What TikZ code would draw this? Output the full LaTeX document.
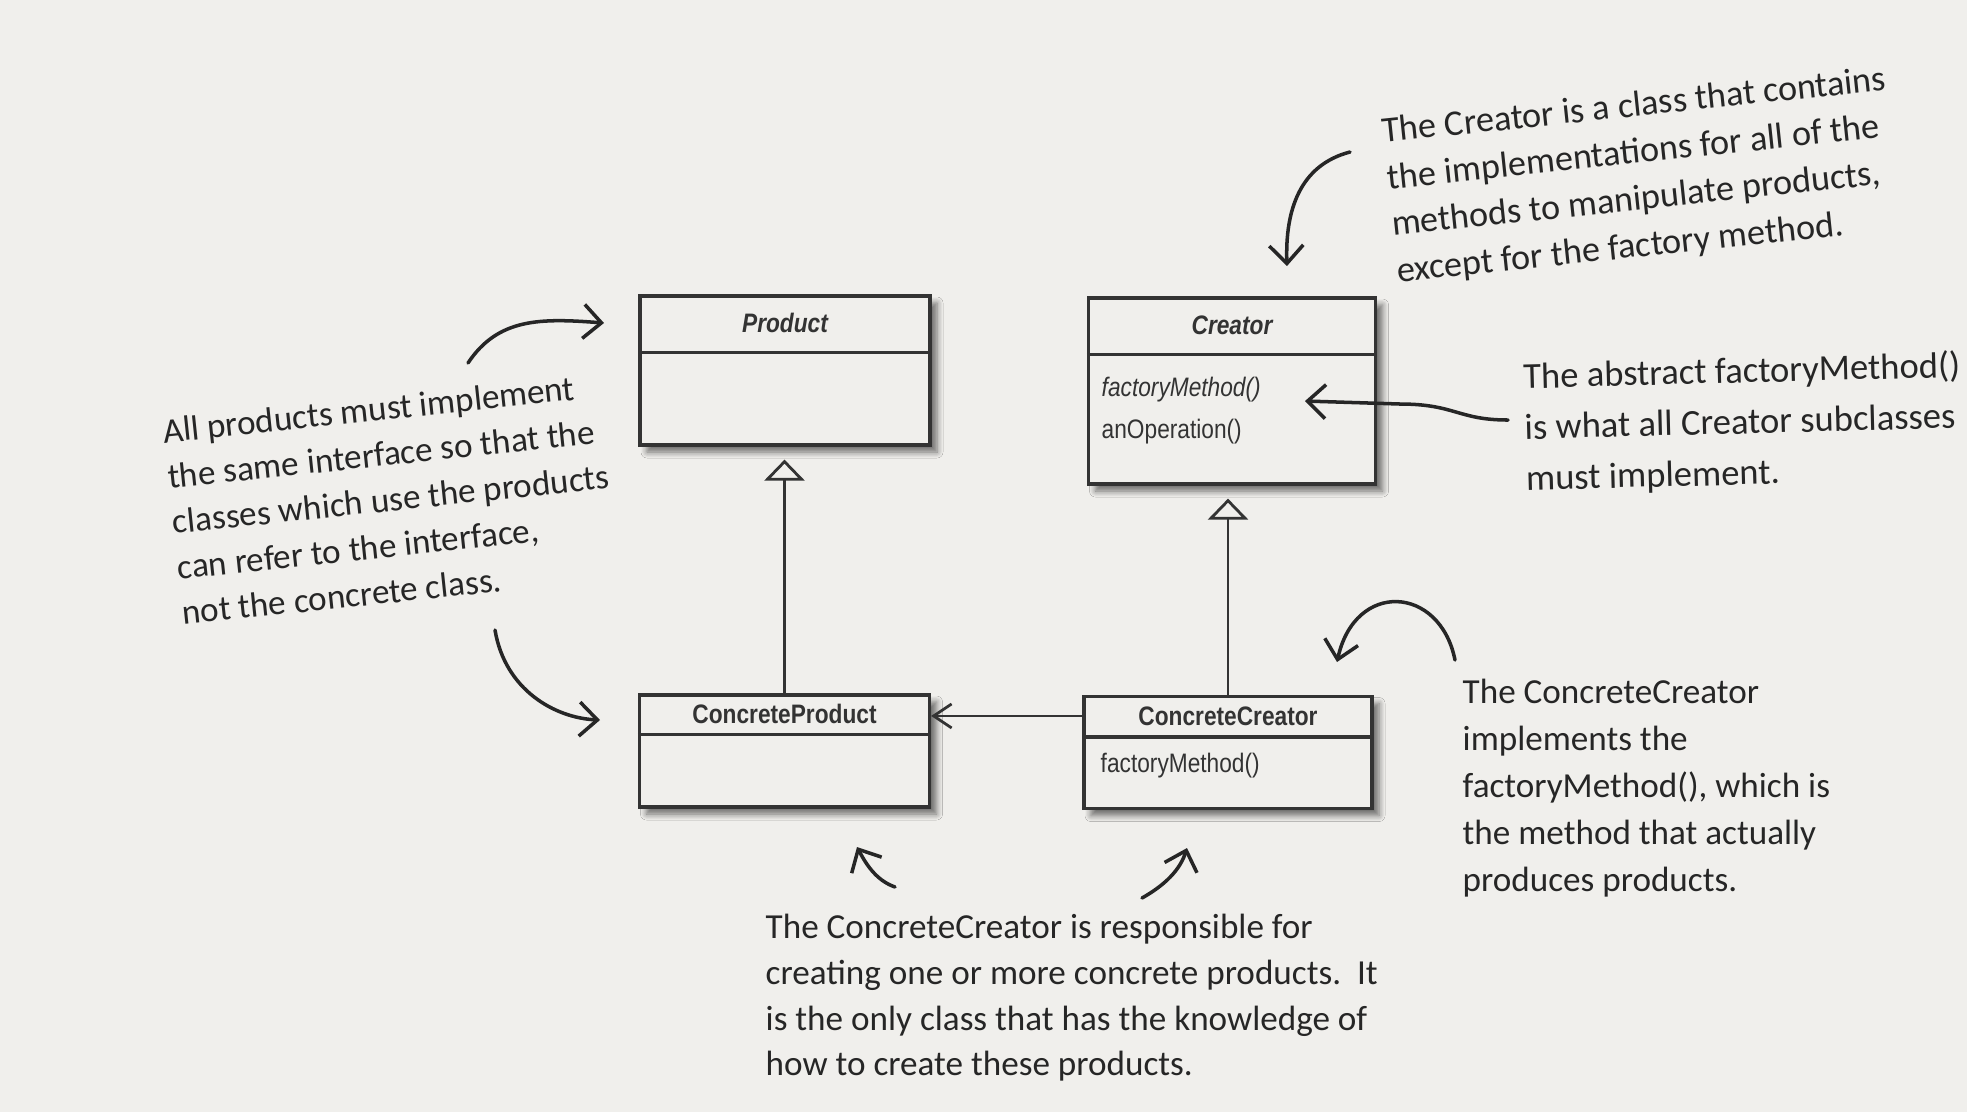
\documentclass[tikz,border=0pt]{standalone}
\usepackage{fontspec}
\usetikzlibrary{arrows.meta,shadows.blur}
\newfontfamily\umlfont[FakeStretch=0.85]{Liberation Sans}
\newfontfamily\handfont{Carlito}
\definecolor{paper}{HTML}{F0EFEC}
\definecolor{ink}{HTML}{333333}
\definecolor{pen}{HTML}{262626}

\begin{document}
\begin{tikzpicture}[x=0.1mm, y=-0.1mm,
	cls/.style={draw=ink, line width=0.9pt, fill=paper, inner sep=0pt, minimum width=29mm, blur shadow={shadow xshift=0.7mm, shadow yshift=-0.7mm, shadow blur radius=0.6mm, shadow blur steps=6, shadow opacity=55}},
	ttl/.style={font=\umlfont\fontsize{7.6}{9}\selectfont\bfseries, text=ink, inner sep=0pt},
	op/.style={font=\umlfont\fontsize{7.6}{9}\selectfont, text=ink, anchor=west, inner sep=0pt},
	bar/.style={draw=ink, line width=0.9pt},
	gen/.style={draw=ink, line width=0.8pt, shorten >=1.3mm, -{Triangle[length=2.1mm, width=4mm, fill=paper]}},
	assoc/.style={draw=ink, line width=0.8pt, -{Straight Barb[length=1.8mm, width=2.4mm]}},
	note/.style={text=pen, align=left, inner sep=0pt, anchor=west},
	hand/.style={draw=pen, line width=1pt, line cap=round, -{Straight Barb[length=1.8mm, width=3.4mm]}}]
	\fill[paper] (0,0) rectangle (1967,1112);
	\useasboundingbox (0,0) rectangle (1967,1112);
	\node[cls, minimum height=14.9mm] (prod) at (785,370.5) {};
	\node[cls, minimum height=18.6mm, minimum width=28.7mm] (cr) at (1232,391) {};
	\node[cls, minimum height=11.2mm] (cp) at (784.5,751) {};
	\node[cls, minimum height=11.2mm, minimum width=28.8mm] (cc) at (1228,752.5) {};
	\draw[bar] ([yshift=-5.8mm]prod.north west) -- ([yshift=-5.8mm]prod.north east);
	\draw[bar] ([yshift=-5.8mm]cr.north west) -- ([yshift=-5.8mm]cr.north east);
	\draw[bar] ([yshift=-4.1mm]cp.north west) -- ([yshift=-4.1mm]cp.north east);
	\draw[bar] ([yshift=-4.2mm]cc.north west) -- ([yshift=-4.2mm]cc.north east);
	\node[ttl] (prodT) at ([yshift=-2.9mm]prod.north) {\itshape Product};
	\node[ttl] (crT) at ([yshift=-2.9mm]cr.north) {\itshape Creator};
	\node[ttl] (cpT) at ([yshift=-2.1mm]cp.north) {ConcreteProduct};
	\node[ttl] (ccT) at ([yshift=-2.1mm]cc.north) {ConcreteCreator};
	\node[op] (crFM) at (1101,390) {\itshape factoryMethod()};
	\node[op] (crOp) at (1101,432) {anOperation()};
	\node[op] (ccFM) at (1100,766) {factoryMethod()};
	\draw[gen] (cp.north) -- (cp.north |- prod.south);
	\draw[gen] (cc.north) -- (cc.north |- cr.south);
	\draw[assoc] (cc.west |- ccT) -- (cp.east |- ccT);
	\node[note, rotate=6, font=\handfont\fontsize{10}{13}\selectfont] (nProd) at (172,522) {All products must implement\\the same interface so that the\\classes which use the products\\can refer to the interface,\\not the concrete class.};
	\node[note, rotate=6, font=\handfont\fontsize{10.3}{13.3}\selectfont] (nCr) at (1389,203) {The Creator is a class that contains\\the implementations for all of the\\methods to manipulate products,\\except for the factory method.};
	\node[note, rotate=1.5, font=\handfont\fontsize{10.4}{14.5}\selectfont] (nFM) at (1524,429) {The abstract factoryMethod()\\is what all Creator subclasses\\must implement.};
	\node[note, font=\handfont\fontsize{10}{13.4}\selectfont] (nCC) at (1462,788) {The ConcreteCreator\\implements the\\factoryMethod(), which is\\the method that actually\\produces products.};
	\node[note, font=\handfont\fontsize{10}{13}\selectfont] (nResp) at (765,998) {The ConcreteCreator is responsible for\\creating one or more concrete products.\ \ It\\is the only class that has the knowledge of\\how to create these products.};
	\coordinate (s1) at (468,363);
	\coordinate (toProd) at (604,323);
	\coordinate (s2) at (495,630);
	\coordinate (toCP) at (600,720);
	\coordinate (s3) at (1350,152);
	\coordinate (toCr) at (1287,266);
	\coordinate (s4) at (1508,420);
	\coordinate (toFM) at (1305,401);
	\coordinate (s5) at (1455,660);
	\coordinate (toCC) at (1337,662);
	\coordinate (s6) at (895,887);
	\coordinate (upCP) at (857,847);
	\coordinate (s7) at (1142,898);
	\coordinate (upCC) at (1187,848);
	\draw[hand] (s1) .. controls (498,318) and (540,318) .. (toProd);
	\draw[hand] (s2) .. controls (505,690) and (555,718) .. (toCP);
	\draw[hand] (s3) .. controls (1300,165) and (1285,210) .. (toCr);
	\draw[hand] (s4) .. controls (1458,420) and (1455,404) .. (1400,404) -- (toFM);
	\draw[hand] (s5) .. controls (1440,585) and (1355,580) .. (toCC);
	\draw[hand] (s6) .. controls (875,880) and (865,862) .. (upCP);
	\draw[hand] (s7) .. controls (1165,885) and (1180,870) .. (upCC);
\end{tikzpicture}
\end{document}
